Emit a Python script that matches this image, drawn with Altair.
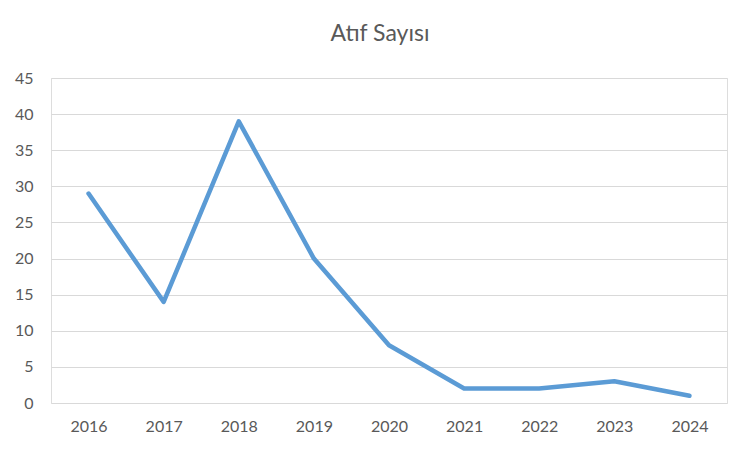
import altair as alt
import pandas as pd

years = ["2016", "2017", "2018", "2019", "2020", "2021", "2022", "2023", "2024"]
citations = [29, 14, 39, 20, 8, 2, 2, 3, 1]
y_ticks = [0, 5, 10, 15, 20, 25, 30, 35, 40, 45]

df = pd.DataFrame({"Yıl": years, "Atıf": citations})

FONT = "Lato"
TXT = "#595959"

chart = alt.Chart(df).mark_line(
    color="#5b9bd5", strokeWidth=4.5, strokeCap="round", strokeJoin="round"
).encode(
    x=alt.X("Yıl:N", sort=years,
            scale=alt.Scale(type="point", padding=0.5),
            axis=alt.Axis(title=None, labelAngle=0, domain=False, ticks=False,
                          labelPadding=15, labelFont=FONT, labelFontSize=16,
                          labelColor=TXT, grid=False)),
    y=alt.Y("Atıf:Q",
            scale=alt.Scale(domain=[0, 45], nice=False),
            axis=alt.Axis(title=None, values=y_ticks, domain=False, ticks=False,
                          labelPadding=18, labelFont=FONT, labelFontSize=16,
                          labelColor=TXT, grid=True, gridColor="#d9d9d9",
                          gridWidth=1)),
).properties(
    width=676,
    height=325,
    title=alt.TitleParams("Atıf Sayısı", font=FONT, fontSize=23, fontWeight="normal",
                          color=TXT, anchor="middle", dx=-9, offset=24),
    autosize=alt.AutoSizeParams(type="none"),
    padding={"left": 43, "top": 70, "right": 17, "bottom": 41},
).configure_view(stroke=None).configure(background="white")

chart.save("out.html", embed_options={"renderer": "svg", "actions": False})
